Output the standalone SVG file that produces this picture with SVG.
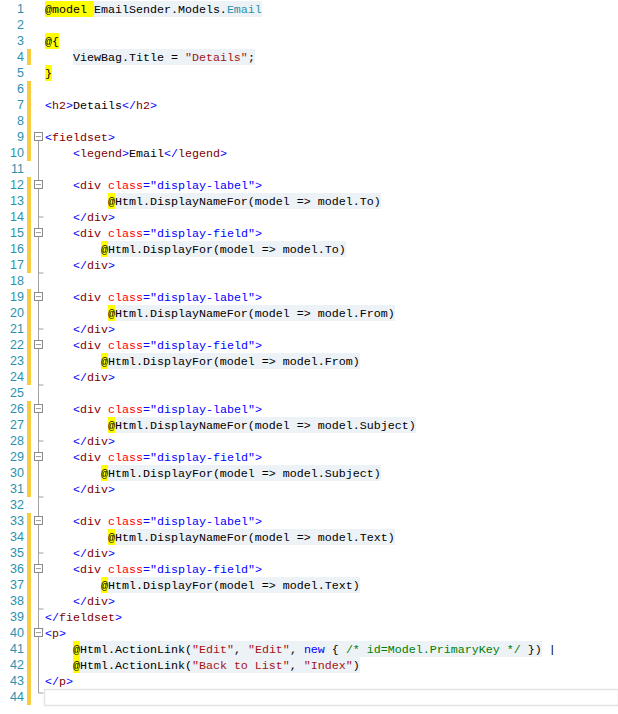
<svg xmlns="http://www.w3.org/2000/svg" width="618" height="714" viewBox="0 0 618 714">
<style>
text{font-family:"Liberation Mono","DejaVu Sans Mono",monospace;font-size:11.67px;white-space:pre}
.ln{fill:#2B91AF;text-anchor:end;font-family:"Liberation Sans","DejaVu Sans",sans-serif;font-size:12.5px}
.b{fill:#0000FF}.m{fill:#800000}.r{fill:#FF0000}.s{fill:#A31515}.g{fill:#008000}.t{fill:#2B91AF}.k{fill:#000}
.hl{fill:#EDF2F7}.y{fill:#FFFF00}.bar{fill:#F9CB3F}
.box{fill:#fff;stroke:#8a8a8a;stroke-width:1}
.ol{stroke:#A0A0A0;stroke-width:1;fill:none}
</style>
<rect width="618" height="714" fill="#fff"/>
<g id="margin">
<rect class="bar" x="27" y="49" width="4" height="16"/>
<rect class="bar" x="27" y="81" width="4" height="80"/>
<rect class="bar" x="27" y="177" width="4" height="96"/>
<rect class="bar" x="27" y="289" width="4" height="96"/>
<rect class="bar" x="27" y="401" width="4" height="96"/>
<rect class="bar" x="27" y="513" width="4" height="192"/>
</g>
<g id="outline">
<path class="ol" d="M38.5 141v488h5M38.5 217h5M38.5 273h5M38.5 329h5M38.5 385h5M38.5 441h5M38.5 497h5M38.5 553h5M38.5 609h5M38.5 637v56h5"/>
<g>
<rect class="box" x="34.5" y="132.5" width="8" height="8"/><path class="ol" d="M36 136.5h5"/>
<rect class="box" x="34.5" y="180.5" width="8" height="8"/><path class="ol" d="M36 184.5h5"/>
<rect class="box" x="34.5" y="228.5" width="8" height="8"/><path class="ol" d="M36 232.5h5"/>
<rect class="box" x="34.5" y="292.5" width="8" height="8"/><path class="ol" d="M36 296.5h5"/>
<rect class="box" x="34.5" y="340.5" width="8" height="8"/><path class="ol" d="M36 344.5h5"/>
<rect class="box" x="34.5" y="404.5" width="8" height="8"/><path class="ol" d="M36 408.5h5"/>
<rect class="box" x="34.5" y="452.5" width="8" height="8"/><path class="ol" d="M36 456.5h5"/>
<rect class="box" x="34.5" y="516.5" width="8" height="8"/><path class="ol" d="M36 520.5h5"/>
<rect class="box" x="34.5" y="564.5" width="8" height="8"/><path class="ol" d="M36 568.5h5"/>
<rect class="box" x="34.5" y="628.5" width="8" height="8"/><path class="ol" d="M36 632.5h5"/>
</g>
</g>
<g id="linenumbers">
<text class="ln" x="24" y="13">1</text><text class="ln" x="24" y="29">2</text><text class="ln" x="24" y="45">3</text><text class="ln" x="24" y="61">4</text><text class="ln" x="24" y="77">5</text><text class="ln" x="24" y="93">6</text><text class="ln" x="24" y="109">7</text><text class="ln" x="24" y="125">8</text><text class="ln" x="24" y="141">9</text><text class="ln" x="24" y="157">10</text><text class="ln" x="24" y="173">11</text><text class="ln" x="24" y="189">12</text><text class="ln" x="24" y="205">13</text><text class="ln" x="24" y="221">14</text><text class="ln" x="24" y="237">15</text><text class="ln" x="24" y="253">16</text><text class="ln" x="24" y="269">17</text><text class="ln" x="24" y="285">18</text><text class="ln" x="24" y="301">19</text><text class="ln" x="24" y="317">20</text><text class="ln" x="24" y="333">21</text><text class="ln" x="24" y="349">22</text><text class="ln" x="24" y="365">23</text><text class="ln" x="24" y="381">24</text><text class="ln" x="24" y="397">25</text><text class="ln" x="24" y="413">26</text><text class="ln" x="24" y="429">27</text><text class="ln" x="24" y="445">28</text><text class="ln" x="24" y="461">29</text><text class="ln" x="24" y="477">30</text><text class="ln" x="24" y="493">31</text><text class="ln" x="24" y="509">32</text><text class="ln" x="24" y="525">33</text><text class="ln" x="24" y="541">34</text><text class="ln" x="24" y="557">35</text><text class="ln" x="24" y="573">36</text><text class="ln" x="24" y="589">37</text><text class="ln" x="24" y="605">38</text><text class="ln" x="24" y="621">39</text><text class="ln" x="24" y="637">40</text><text class="ln" x="24" y="653">41</text><text class="ln" x="24" y="669">42</text><text class="ln" x="24" y="685">43</text><text class="ln" x="24" y="701">44</text>
</g>
<g id="highlights">
<rect class="y" x="45" y="1" width="49" height="16"/><rect class="hl" x="94" y="1" width="168" height="16"/>
<rect class="y" x="45" y="33" width="14" height="16"/>
<rect class="hl" x="73" y="49" width="182" height="16"/>
<rect class="y" x="45" y="65" width="7" height="16"/>
<rect class="y" x="108" y="193" width="7" height="16"/><rect class="hl" x="115" y="193" width="266" height="16"/>
<rect class="y" x="101" y="241" width="7" height="16"/><rect class="hl" x="108" y="241" width="238" height="16"/>
<rect class="y" x="108" y="305" width="7" height="16"/><rect class="hl" x="115" y="305" width="280" height="16"/>
<rect class="y" x="101" y="353" width="7" height="16"/><rect class="hl" x="108" y="353" width="252" height="16"/>
<rect class="y" x="108" y="417" width="7" height="16"/><rect class="hl" x="115" y="417" width="301" height="16"/>
<rect class="y" x="101" y="465" width="7" height="16"/><rect class="hl" x="108" y="465" width="273" height="16"/>
<rect class="y" x="108" y="529" width="7" height="16"/><rect class="hl" x="115" y="529" width="280" height="16"/>
<rect class="y" x="101" y="577" width="7" height="16"/><rect class="hl" x="108" y="577" width="252" height="16"/>
<rect class="y" x="73" y="641" width="7" height="16"/><rect class="hl" x="80" y="641" width="462" height="16"/>
<rect class="y" x="73" y="657" width="7" height="16"/><rect class="hl" x="80" y="657" width="280" height="16"/>
<rect x="44.5" y="689.5" width="574" height="16" fill="none" stroke="#E4E4E4" stroke-width="1.5"/>
</g>
<g id="code">
<text x="45" y="13"><tspan class="k">@model EmailSender.Models.</tspan><tspan class="t">Email</tspan></text>
<text x="45" y="45" class="k">@{</text>
<text x="45" y="61"><tspan class="k">    ViewBag.Title = </tspan><tspan class="s">"Details"</tspan><tspan class="k">;</tspan></text>
<text x="45" y="77" class="k">}</text>
<text x="45" y="109"><tspan class="b">&lt;</tspan><tspan class="m">h2</tspan><tspan class="b">&gt;</tspan><tspan class="k">Details</tspan><tspan class="b">&lt;/</tspan><tspan class="m">h2</tspan><tspan class="b">&gt;</tspan></text>
<text x="45" y="141"><tspan class="b">&lt;</tspan><tspan class="m">fieldset</tspan><tspan class="b">&gt;</tspan></text>
<text x="45" y="157"><tspan>    </tspan><tspan class="b">&lt;</tspan><tspan class="m">legend</tspan><tspan class="b">&gt;</tspan><tspan class="k">Email</tspan><tspan class="b">&lt;/</tspan><tspan class="m">legend</tspan><tspan class="b">&gt;</tspan></text>

<text x="45" y="189"><tspan>    </tspan><tspan class="b">&lt;</tspan><tspan class="m">div</tspan><tspan class="r"> class</tspan><tspan class="b">="display-label"&gt;</tspan></text>
<text x="45" y="205" class="k">         @Html.DisplayNameFor(model =&gt; model.To)</text>
<text x="45" y="221"><tspan>    </tspan><tspan class="b">&lt;/</tspan><tspan class="m">div</tspan><tspan class="b">&gt;</tspan></text>
<text x="45" y="237"><tspan>    </tspan><tspan class="b">&lt;</tspan><tspan class="m">div</tspan><tspan class="r"> class</tspan><tspan class="b">="display-field"&gt;</tspan></text>
<text x="45" y="253" class="k">        @Html.DisplayFor(model =&gt; model.To)</text>
<text x="45" y="269"><tspan>    </tspan><tspan class="b">&lt;/</tspan><tspan class="m">div</tspan><tspan class="b">&gt;</tspan></text>

<text x="45" y="301"><tspan>    </tspan><tspan class="b">&lt;</tspan><tspan class="m">div</tspan><tspan class="r"> class</tspan><tspan class="b">="display-label"&gt;</tspan></text>
<text x="45" y="317" class="k">         @Html.DisplayNameFor(model =&gt; model.From)</text>
<text x="45" y="333"><tspan>    </tspan><tspan class="b">&lt;/</tspan><tspan class="m">div</tspan><tspan class="b">&gt;</tspan></text>
<text x="45" y="349"><tspan>    </tspan><tspan class="b">&lt;</tspan><tspan class="m">div</tspan><tspan class="r"> class</tspan><tspan class="b">="display-field"&gt;</tspan></text>
<text x="45" y="365" class="k">        @Html.DisplayFor(model =&gt; model.From)</text>
<text x="45" y="381"><tspan>    </tspan><tspan class="b">&lt;/</tspan><tspan class="m">div</tspan><tspan class="b">&gt;</tspan></text>

<text x="45" y="413"><tspan>    </tspan><tspan class="b">&lt;</tspan><tspan class="m">div</tspan><tspan class="r"> class</tspan><tspan class="b">="display-label"&gt;</tspan></text>
<text x="45" y="429" class="k">         @Html.DisplayNameFor(model =&gt; model.Subject)</text>
<text x="45" y="445"><tspan>    </tspan><tspan class="b">&lt;/</tspan><tspan class="m">div</tspan><tspan class="b">&gt;</tspan></text>
<text x="45" y="461"><tspan>    </tspan><tspan class="b">&lt;</tspan><tspan class="m">div</tspan><tspan class="r"> class</tspan><tspan class="b">="display-field"&gt;</tspan></text>
<text x="45" y="477" class="k">        @Html.DisplayFor(model =&gt; model.Subject)</text>
<text x="45" y="493"><tspan>    </tspan><tspan class="b">&lt;/</tspan><tspan class="m">div</tspan><tspan class="b">&gt;</tspan></text>

<text x="45" y="525"><tspan>    </tspan><tspan class="b">&lt;</tspan><tspan class="m">div</tspan><tspan class="r"> class</tspan><tspan class="b">="display-label"&gt;</tspan></text>
<text x="45" y="541" class="k">         @Html.DisplayNameFor(model =&gt; model.Text)</text>
<text x="45" y="557"><tspan>    </tspan><tspan class="b">&lt;/</tspan><tspan class="m">div</tspan><tspan class="b">&gt;</tspan></text>
<text x="45" y="573"><tspan>    </tspan><tspan class="b">&lt;</tspan><tspan class="m">div</tspan><tspan class="r"> class</tspan><tspan class="b">="display-field"&gt;</tspan></text>
<text x="45" y="589" class="k">        @Html.DisplayFor(model =&gt; model.Text)</text>
<text x="45" y="605"><tspan>    </tspan><tspan class="b">&lt;/</tspan><tspan class="m">div</tspan><tspan class="b">&gt;</tspan></text>

<text x="45" y="621"><tspan class="b">&lt;/</tspan><tspan class="m">fieldset</tspan><tspan class="b">&gt;</tspan></text>
<text x="45" y="637"><tspan class="b">&lt;</tspan><tspan class="m">p</tspan><tspan class="b">&gt;</tspan></text>
<text x="45" y="653"><tspan class="k">    @Html.ActionLink(</tspan><tspan class="s">"Edit"</tspan><tspan class="k">, </tspan><tspan class="s">"Edit"</tspan><tspan class="k">, </tspan><tspan class="b">new</tspan><tspan class="k"> { </tspan><tspan class="g">/* id=Model.PrimaryKey */</tspan><tspan class="k"> }) |</tspan></text>
<text x="45" y="669"><tspan class="k">    @Html.ActionLink(</tspan><tspan class="s">"Back to List"</tspan><tspan class="k">, </tspan><tspan class="s">"Index"</tspan><tspan class="k">)</tspan></text>
<text x="45" y="685"><tspan class="b">&lt;/</tspan><tspan class="m">p</tspan><tspan class="b">&gt;</tspan></text>
</g>
</svg>
